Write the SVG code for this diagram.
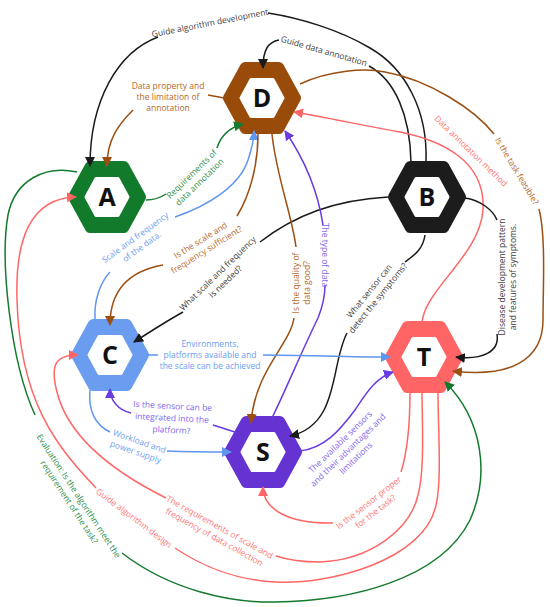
<svg xmlns="http://www.w3.org/2000/svg" width="550" height="607" viewBox="0 0 550 607">
<defs>
<style>
.ho{stroke-width:10;stroke-linejoin:round}
.hi{fill:#fff;stroke:#fff;stroke-width:3;stroke-linejoin:round}
.lt{font-family:"Open Sans","Noto Sans",sans-serif;font-weight:700;font-size:25px;text-anchor:middle;fill:#111}
.c{fill:none;stroke-width:1.5}
.k{stroke:#1a1a1a}.br{stroke:#9b4f12}.g{stroke:#137a2e}.bl{stroke:#5f96ee}.p{stroke:#6a3be0}.r{stroke:#ff6666}
.t{font-family:"Open Sans","Noto Sans",sans-serif;font-size:8.5px;text-anchor:middle}
.tk{fill:#3c3c3c}.tbr{fill:#b8692a}.tg{fill:#2f8f4e}.tbl{fill:#6c9ef2}.tp{fill:#8466f0}.tr{fill:#ff7575}
</style>
<marker id="mk" viewBox="0 0 10 10" refX="9" refY="5" markerWidth="10" markerHeight="10" markerUnits="userSpaceOnUse" orient="auto"><path d="M0,0 L10,5 L0,10 z" fill="#1a1a1a"/></marker>
<marker id="mbr" viewBox="0 0 10 10" refX="9" refY="5" markerWidth="10" markerHeight="10" markerUnits="userSpaceOnUse" orient="auto"><path d="M0,0 L10,5 L0,10 z" fill="#9b4f12"/></marker>
<marker id="mg" viewBox="0 0 10 10" refX="9" refY="5" markerWidth="10" markerHeight="10" markerUnits="userSpaceOnUse" orient="auto"><path d="M0,0 L10,5 L0,10 z" fill="#137a2e"/></marker>
<marker id="mbl" viewBox="0 0 10 10" refX="9" refY="5" markerWidth="10" markerHeight="10" markerUnits="userSpaceOnUse" orient="auto"><path d="M0,0 L10,5 L0,10 z" fill="#5f96ee"/></marker>
<marker id="mp" viewBox="0 0 10 10" refX="9" refY="5" markerWidth="10" markerHeight="10" markerUnits="userSpaceOnUse" orient="auto"><path d="M0,0 L10,5 L0,10 z" fill="#6a3be0"/></marker>
<marker id="mr" viewBox="0 0 10 10" refX="9" refY="5" markerWidth="10" markerHeight="10" markerUnits="userSpaceOnUse" orient="auto"><path d="M0,0 L10,5 L0,10 z" fill="#ff6666"/></marker>
</defs>
<rect width="550" height="607" fill="#fff"/>

<g id="A" transform="translate(107,197)">
<polygon class="ho" points="-34,0 -17,-31 17,-31 34,0 17,31 -17,31" fill="#117a2b" stroke="#117a2b"/>
<polygon class="hi" points="-21,0 -11,-18.5 11,-18.5 21,0 11,18.5 -11,18.5"/>
<text class="lt" x="0" y="9">A</text>
</g>
<g id="D" transform="translate(262,98)">
<polygon class="ho" points="-34,0 -17,-31 17,-31 34,0 17,31 -17,31" fill="#994c0a" stroke="#994c0a"/>
<polygon class="hi" points="-21,0 -11,-18.5 11,-18.5 21,0 11,18.5 -11,18.5"/>
<text class="lt" x="0" y="9">D</text>
</g>
<g id="B" transform="translate(427,197)">
<polygon class="ho" points="-34,0 -17,-31 17,-31 34,0 17,31 -17,31" fill="#1c1c1c" stroke="#1c1c1c"/>
<polygon class="hi" points="-21,0 -11,-18.5 11,-18.5 21,0 11,18.5 -11,18.5"/>
<text class="lt" x="0" y="9">B</text>
</g>
<g id="C" transform="translate(110,355)">
<polygon class="ho" points="-34,0 -17,-31 17,-31 34,0 17,31 -17,31" fill="#6a9cf0" stroke="#6a9cf0"/>
<polygon class="hi" points="-21,0 -11,-18.5 11,-18.5 21,0 11,18.5 -11,18.5"/>
<text class="lt" x="0" y="9">C</text>
</g>
<g id="S" transform="translate(263,452)">
<polygon class="ho" points="-34,0 -17,-31 17,-31 34,0 17,31 -17,31" fill="#6433d2" stroke="#6433d2"/>
<polygon class="hi" points="-21,0 -11,-18.5 11,-18.5 21,0 11,18.5 -11,18.5"/>
<text class="lt" x="0" y="9">S</text>
</g>
<g id="T" transform="translate(424,357)">
<polygon class="ho" points="-34,0 -17,-31 17,-31 34,0 17,31 -17,31" fill="#ff6565" stroke="#ff6565"/>
<polygon class="hi" points="-21,0 -11,-18.5 11,-18.5 21,0 11,18.5 -11,18.5"/>
<text class="lt" x="0" y="9">T</text>
</g>

<g id="connectors">
<!-- B -> A -->
<path class="c k" d="M426,162 C428,110 405,68 370,48 C340,30 300,18 268,13"/>
<path class="c k" d="M158,37 C118,52 90,100 90,166" marker-end="url(#mk)"/>
<text class="t tk" transform="translate(210,23) rotate(-11)"><tspan x="0" y="3">Guide algorithm development</tspan></text>
<!-- B -> D -->
<path class="c k" d="M411,162 C410,115 395,80 369,66"/>
<path class="c k" d="M279,40 C268,42 263,50 263,68" marker-end="url(#mk)"/>
<text class="t tk" transform="translate(324,51) rotate(16)"><tspan x="0" y="3">Guide data annotation</tspan></text>
<!-- D -> A -->
<path class="c br" d="M224,98 L208,95"/>
<path class="c br" d="M133,110 C118,125 107,140 107,166" marker-end="url(#mbr)"/>
<text class="t tbr" transform="translate(168,97)"><tspan x="0" y="-8.2">Data property and</tspan><tspan x="0" y="3">the limitation of</tspan><tspan x="0" y="14.2">annotation</tspan></text>
<!-- A -> D -->
<path class="c g" d="M146,200 C155,200 160,198 166,194"/>
<path class="c g" d="M217,148 C220,138 228,128 243,124" marker-end="url(#mg)"/>
<text class="t tg" transform="translate(195.5,178) rotate(-44)"><tspan x="0" y="-2.6">Requirements of</tspan><tspan x="0" y="8.6">data annotation</tspan></text>
<!-- C -> D -->
<path class="c bl" d="M95,319 C94,300 100,283 110,272"/>
<path class="c bl" d="M175,217 C210,205 240,185 248,160 C252,148 254,140 254,131" marker-end="url(#mbl)"/>
<text class="t tbl" transform="translate(138.5,242) rotate(-36)"><tspan x="0" y="-2.6">Scale and frequency</tspan><tspan x="0" y="8.6">of the data.</tspan></text>
<!-- D -> C -->
<path class="c br" d="M258,134 C258,165 250,195 237,216"/>
<path class="c br" d="M163,265 C135,270 110,285 110,325" marker-end="url(#mbr)"/>
<text class="t tbr" transform="translate(203.5,245) rotate(-32)"><tspan x="0" y="-2.6">Is the scale and</tspan><tspan x="0" y="8.6">frequency sufficient?</tspan></text>
<!-- B -> C -->
<path class="c k" d="M388,197 C335,200 295,215 260,242"/>
<path class="c k" d="M183,312 C165,322 150,332 134,342" marker-end="url(#mk)"/>
<text class="t tk" transform="translate(221.5,277.5) rotate(-44)"><tspan x="0" y="-2.6">What scale and frequency</tspan><tspan x="0" y="8.6">is needed?</tspan></text>
<!-- D -> S -->
<path class="c br" d="M272,134 C276,175 292,215 296,247"/>
<path class="c br" d="M294,318 C290,345 255,370 251,423" marker-end="url(#mbr)"/>
<text class="t tbr" transform="translate(301.5,283) rotate(-90)"><tspan x="0" y="-2.6">Is the quality of</tspan><tspan x="0" y="8.6">data good?</tspan></text>
<!-- S -> D -->
<path class="c p" d="M272,418 C288,385 300,355 318,318 C322,308 325,298 325,285"/>
<path class="c p" d="M323,225 C318,192 305,160 285,131" marker-end="url(#mp)"/>
<text class="t tp" transform="translate(325,255) rotate(90)"><tspan x="0" y="3">The type of data</tspan></text>
<!-- B -> S -->
<path class="c k" d="M425,235 C423,250 413,256 405,262"/>
<path class="c k" d="M347,333 C330,365 340,425 290,436" marker-end="url(#mk)"/>
<text class="t tk" transform="translate(373.5,294.5) rotate(-51)"><tspan x="0" y="-2.6">What sensor can</tspan><tspan x="0" y="8.6">detect the symptoms?</tspan></text>
<!-- C -> T -->
<path class="c bl" d="M146,355 L158,355"/>
<path class="c bl" d="M263,355 C300,355 350,357 390,357" marker-end="url(#mbl)"/>
<text class="t tbl" transform="translate(210,355)"><tspan x="0" y="-8.2">Environments,</tspan><tspan x="0" y="3">platforms available and</tspan><tspan x="0" y="14.2">the scale can be achieved</tspan></text>
<!-- S -> C -->
<path class="c p" d="M238,433 L213,425"/>
<path class="c p" d="M131,413 C118,410 110,400 110,389" marker-end="url(#mp)"/>
<text class="t tp" transform="translate(172,418) rotate(3)"><tspan x="0" y="-9">Is the sensor can be</tspan><tspan x="0" y="3">integrated into the</tspan><tspan x="0" y="15">platform?</tspan></text>
<!-- C -> S -->
<path class="c bl" d="M90,390 C88,410 95,425 110,432"/>
<path class="c bl" d="M167,451 C190,452 210,452 231,452" marker-end="url(#mbl)"/>
<text class="t tbl" transform="translate(137.5,446.5) rotate(19)"><tspan x="0" y="-2.6">Workload and</tspan><tspan x="0" y="8.6">power supply</tspan></text>
<!-- S -> T -->
<path class="c p" d="M300,451 C325,448 340,430 355,410 C365,395 375,378 393,372" marker-end="url(#mp)"/>
<text class="t tp" transform="translate(348,450) rotate(-44)"><tspan x="0" y="-8.2">The available sensors</tspan><tspan x="0" y="3">and their advantages and</tspan><tspan x="0" y="14.2">limitations</tspan></text>
<!-- T -> S -->
<path class="c r" d="M410,391 C410,420 408,450 401,472"/>
<path class="c r" d="M333,523 C290,524 263,510 263,487" marker-end="url(#mr)"/>
<text class="t tr" transform="translate(372,507) rotate(-38)"><tspan x="0" y="-2.6">Is the sensor proper</tspan><tspan x="0" y="8.6">for the task?</tspan></text>
<!-- T -> C -->
<path class="c r" d="M422,391 C422,420 425,470 418,495 C410,530 370,560 320,562 C300,562 288,560 276,556"/>
<path class="c r" d="M166,498 C130,480 70,445 57,392 C50,365 55,355 78,355" marker-end="url(#mr)"/>
<text class="t tr" transform="translate(217,532) rotate(29)"><tspan x="0" y="-2.6">The requirements of scale and</tspan><tspan x="0" y="8.6">frequency of data collection</tspan></text>
<!-- T -> A -->
<path class="c r" d="M438,391 C438,430 442,480 436,505 C425,560 330,585 275,582 C235,580 200,565 175,548"/>
<path class="c r" d="M96,488 C55,445 20,400 17,300 C15,240 30,198 76,197" marker-end="url(#mr)"/>
<text class="t tr" transform="translate(134,518) rotate(37)"><tspan x="0" y="3">Guide algorithm design</tspan></text>
<!-- T -> D -->
<path class="c r" d="M422,323 C424,290 480,255 483,210 C486,160 440,140 400,132 C360,125 330,118 294,112" marker-end="url(#mr)"/>
<text class="t tr" transform="translate(471,151) rotate(44)"><tspan x="0" y="3">Data annotation method</tspan></text>
<!-- D -> T -->
<path class="c br" d="M300,84 C330,70 365,68 385,72 C430,80 475,110 494,134"/>
<path class="c br" d="M539,209 C546,235 543,290 543,320 C543,360 510,378 453,371" marker-end="url(#mbr)"/>
<text class="t tbr" transform="translate(517,171) rotate(59)"><tspan x="0" y="3">Is the task feasible?</tspan></text>
<!-- B -> T -->
<path class="c k" d="M465,198 C480,200 493,210 497,220"/>
<path class="c k" d="M497,334 C500,352 482,360 456,357" marker-end="url(#mk)"/>
<text class="t tk" transform="translate(507.5,277) rotate(-90)"><tspan x="0" y="-2.6">Disease development pattern</tspan><tspan x="0" y="8.6">and features of symptoms.</tspan></text>
<!-- A -> T -->
<path class="c g" d="M77,172 C45,165 15,180 8,215 C0,260 10,360 35,415"/>
<path class="c g" d="M122,553 C170,590 230,603 275,602 C350,601 440,580 470,520 C490,475 483,420 445,382" marker-end="url(#mg)"/>
<text class="t tg" transform="translate(74,499) rotate(56.7)"><tspan x="0" y="-2.6">Evaluation: Is the algorithm meet the</tspan><tspan x="0" y="8.6">requirement of the task?</tspan></text>
</g>
</svg>
